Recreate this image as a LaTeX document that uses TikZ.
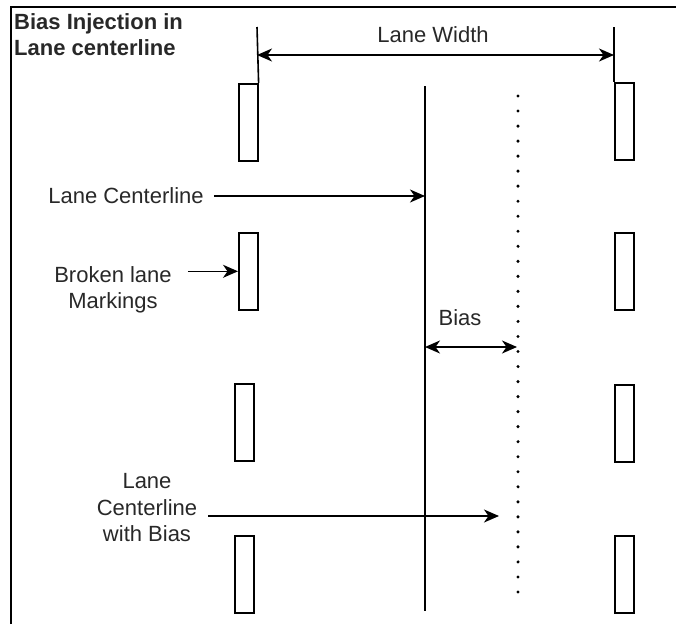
\documentclass[tikz,border=0pt]{standalone}
\usepackage{fontspec}
\setmainfont{Liberation Sans}
\usetikzlibrary{arrows.meta,positioning}

\definecolor{txtgray}{RGB}{40,40,40}

\tikzset{
  marking/.style={draw, line width=1.6pt, minimum width=19pt, minimum height=77pt,
    inner sep=0pt, anchor=north west},
  lbl/.style={font=\fontsize{22}{26.5}\selectfont, text=txtgray, align=center, inner sep=0pt},
  tip/.tip={Stealth[length=15pt,width=13pt,inset=4.5pt]},
  arr/.style={-tip, line width=1.6pt},
  dblarr/.style={tip-tip, line width=1.6pt},
  dots/.style={line width=3.4pt, line cap=round, dash pattern=on 0pt off 15.03pt}
}

\begin{document}
\begin{tikzpicture}[x=1pt,y=-1pt]
  \useasboundingbox (0,0) rectangle (676,624);
  % frame, only top and left edges
  \draw[line width=2pt] (11,624) -- (11,7) -- (676,7);
  \node[lbl, font=\fontsize{22}{26}\selectfont\bfseries, align=left, anchor=north west]
    (title) at (14,13) {Bias Injection in\\Lane centerline};

  % broken lane markings
  \foreach \i/\xl/\yl/\yr in {1/238/83/82, 2/238/232/232, 3/234/383/384, 4/234/535/535} {
    \node[marking] (ml\i) at (\xl,\yl) {};
    \node[marking] (mr\i) at (614,\yr) {};
  }

  % lane width
  \coordinate (lwl) at (257,27);
  \coordinate (lwr) at (614,27);
  \draw[line width=1.6pt] (lwl) -- (ml1.north east);
  \draw[line width=1.6pt] (lwr) -- (mr1.north west);
  \coordinate (wl) at (257,55);
  \coordinate (wr) at (614,55);
  \draw[dblarr] (wl) -- (wr);
  \node[lbl] (lw) at (433,35) {Lane Width};

  % centerline and biased centerline
  \coordinate (clt) at (425,86);
  \coordinate (clb) at (425,611);
  \draw[line width=1.6pt] (clt) -- (clb);
  \coordinate (blt) at (518,96);
  \coordinate (blb) at (518,607);
  \draw[dots] (blt) -- (blb);

  \node[lbl] (lcl) at (126,196) {Lane Centerline};
  \draw[arr] ([xshift=10pt]lcl.east) -- (lcl.east -| clt);

  \node[lbl] (blm) at (113,290) {Broken lane\\Markings};
  \draw[arr] ([xshift=16pt]blm.east |- ml2.west) -- (ml2.west);

  \node[lbl] (bias) at (460,318) {Bias};
  \coordinate (bl) at (425,347);
  \coordinate (br) at (517,347);
  \draw[dblarr] (bl) -- (br);

  \node[lbl] (lcb) at (147,508) {Lane\\Centerline\\with Bias};
  \coordinate (lcbs) at (208,516);
  \draw[arr] (lcbs) -- (lcbs -| 499,0);
\end{tikzpicture}
\end{document}
